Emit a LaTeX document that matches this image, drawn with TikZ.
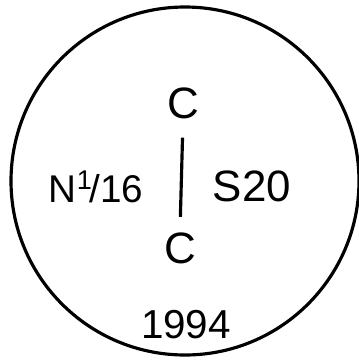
\documentclass[tikz,border=0pt]{standalone}
\usepackage{fontspec}
\setmainfont{Liberation Sans}
\usetikzlibrary{positioning}

\begin{document}
\begin{tikzpicture}[x=0.02cm,y=-0.02cm,font=\fontsize{25}{28}\selectfont,line width=1.8pt]
  \useasboundingbox (0,0) rectangle (359,360);
  \draw (185,181) circle[radius=174];
  \node[inner sep=0pt] (ctop) at (183,103) {C};
  \node[inner sep=0pt] (cbot) at (180,248) {C};
  \draw[shorten <=10pt,shorten >=8pt] (ctop.south) -- (cbot.north);
  \node[inner sep=0pt,font=\fontsize{22}{26}\selectfont] (north) at (96,187) {N\textsuperscript{1}\kern-2pt/16};
  \node[inner sep=0pt] (south) at (252,186) {S20};
  \node[inner sep=0pt,font=\fontsize{23}{26}\selectfont] (year) at (186,325) {1994};
\end{tikzpicture}
\end{document}
